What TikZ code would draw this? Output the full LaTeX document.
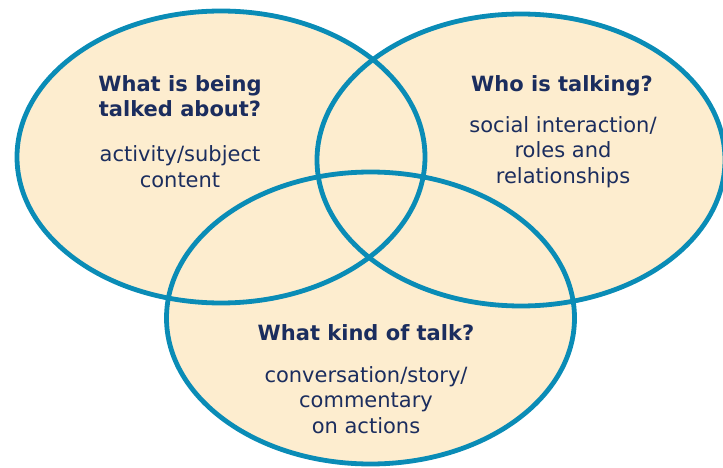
\documentclass[tikz,border=0pt]{standalone}
\usepackage{fontspec}
\setmainfont{DejaVu Sans}
\definecolor{cream}{HTML}{FDEDCF}
\definecolor{ring}{HTML}{0A8CB6}
\definecolor{ink}{HTML}{1B2D5E}
\tikzset{
  ring/.style={draw=ring, line width=4.8pt},
  disc/.style={fill=cream},
  % multi-line nodes are placed by the baseline of their last line
  title/.style={font=\fontsize{21}{25}\selectfont\bfseries, text=ink, align=center, inner sep=0pt, anchor=base},
  body/.style={font=\fontsize{21}{25.5}\selectfont, text=ink, align=center, inner sep=0pt, anchor=base},
}
\begin{document}
\begin{tikzpicture}[x=1pt, y=-1pt]
  \useasboundingbox (0,0) rectangle (723,468);
  % the three sets: fills first, outlines on top
  \coordinate (cl) at (221,157);
  \coordinate (cr) at (521,160);
  \coordinate (cb) at (370.5,318);
  \foreach \c in {cl,cr,cb}
    \fill[disc] (\c) ellipse [x radius=204pt, y radius=146pt];
  \foreach \c in {cl,cr,cb}
    \draw[ring] (\c) ellipse [x radius=204pt, y radius=146pt];
  % labels
  \node[title] (tl) at (180,117) {What is being\\talked about?};
  \node[body]  (bl) at (180,187.5) {activity/subject\\content};
  \node[title] (tr) at (562,92) {Who is talking?};
  \node[body]  (br) at (563,183) {social interaction/\\roles and\\relationships};
  \node[title] (tb) at (366,340) {What kind of talk?};
  \node[body]  (bb) at (366,433) {conversation/story/\\commentary\\on actions};
\end{tikzpicture}
\end{document}
